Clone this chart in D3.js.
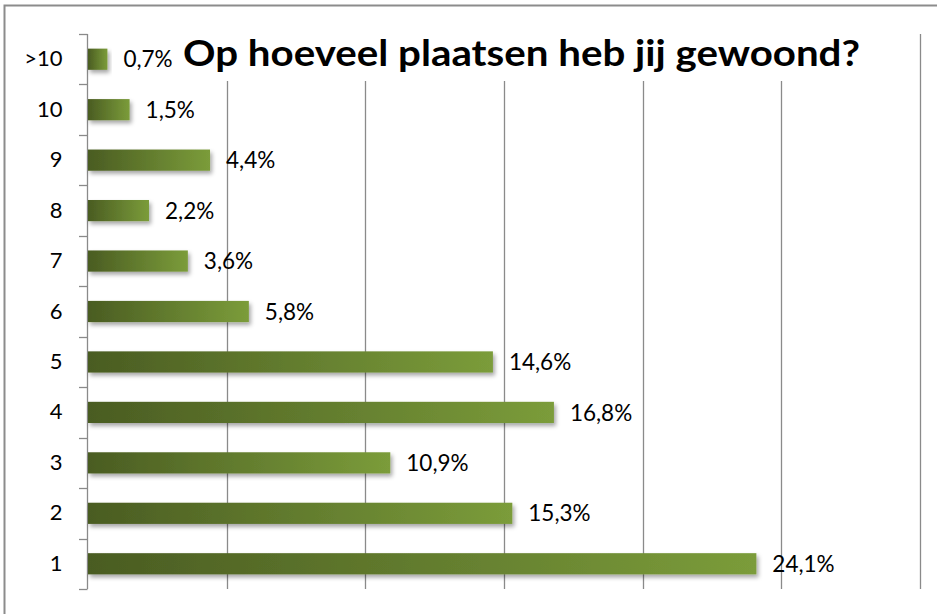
<!DOCTYPE html>
<html><head><meta charset="utf-8">
<script src="https://cdn.jsdelivr.net/npm/d3@7"></script>
<style>body{margin:0;background:#fff}svg{display:block}</style>
</head><body>
<svg id="c" width="937" height="614"></svg>
<script>
const categories = ["1","2","3","4","5","6","7","8","9","10",">10"];
const values = [24.1,15.3,10.9,16.8,14.6,5.8,3.6,2.2,4.4,1.5,0.7];
const valueLabels = ["24,1%","15,3%","10,9%","16,8%","14,6%","5,8%","3,6%","2,2%","4,4%","1,5%","0,7%"];
const gridTicks = [0,5,10,15,20,25,30];
const title = "Op hoeveel plaatsen heb jij gewoond?";

const svg = d3.select("#c");
const font = "Lato, 'Open Sans', sans-serif";
const defs = svg.append("defs");
const grad = defs.append("linearGradient").attr("id","g").attr("x1","0").attr("x2","1").attr("y1","0").attr("y2","0");
grad.append("stop").attr("offset","0").attr("stop-color","#4a5c22");
grad.append("stop").attr("offset","1").attr("stop-color","#7b9c3a");
const f = defs.append("filter").attr("id","sh").attr("x","-10%").attr("y","-50%").attr("width","130%").attr("height","250%");
f.append("feDropShadow").attr("dx",2).attr("dy",3).attr("stdDeviation",2).attr("flood-color","#000").attr("flood-opacity",0.35);

// outer border
svg.append("rect").attr("x",4.5).attr("y",5.5).attr("width",960).attr("height",640)
  .attr("fill","none").attr("stroke","#8c8c8c").attr("stroke-width",2);

const x = d3.scaleLinear().domain([0,30]).range([88,920]);
const y = d3.scaleBand().domain(categories.slice().reverse()).range([34,589]).paddingInner(0.58).paddingOuter(0.29);

// gridlines
svg.append("g").selectAll("line").data(gridTicks.slice(1)).join("line")
  .attr("x1",d=>Math.round(x(d))+0.5).attr("x2",d=>Math.round(x(d))+0.5)
  .attr("y1",34).attr("y2",589).attr("stroke","#8a8a8a").attr("stroke-width",1.3);

// y axis
const yAxis = d3.axisLeft(y).tickSize(0).tickPadding(25);
const ga = svg.append("g").attr("transform","translate(87.5,0)").call(yAxis);
ga.select(".domain").attr("stroke","#8a8a8a").attr("stroke-width",1.3).attr("d","M0,34V589");
ga.selectAll("text").attr("font-family",font).attr("font-size",22).attr("fill","#000");
// boundary ticks
const bounds = d3.range(categories.length+1).map(i=>34 + i*(589-34)/categories.length);
svg.append("g").selectAll("line").data(bounds).join("line")
  .attr("x1",79).attr("x2",87.5).attr("y1",d=>Math.round(d)+0.5).attr("y2",d=>Math.round(d)+0.5)
  .attr("stroke","#8a8a8a").attr("stroke-width",1.3);

// bars
svg.append("g").selectAll("rect").data(categories).join("rect")
  .attr("x",x(0)).attr("y",(d)=>y(d))
  .attr("width",(d,i)=>x(values[i])-x(0)).attr("height",y.bandwidth())
  .attr("fill","url(#g)").attr("filter","url(#sh)");

// title box & text
svg.append("rect").attr("x",176).attr("y",33).attr("width",692).attr("height",48).attr("fill","#fff");
svg.append("text").attr("x",521.5).attr("y",66).attr("text-anchor","middle")
  .attr("font-family",font).attr("font-weight","bold").attr("font-size",37).attr("fill","#000")
  .attr("textLength",677).attr("lengthAdjust","spacingAndGlyphs").text(title);

// value labels
svg.append("g").selectAll("text").data(categories).join("text")
  .attr("x",(d,i)=>x(values[i])+16).attr("y",d=>y(d)+y.bandwidth()/2).attr("dy","0.36em")
  .attr("font-family",font).attr("font-size",22.5).attr("fill","#000")
  .text((d,i)=>valueLabels[i]);
</script>
</body></html>
